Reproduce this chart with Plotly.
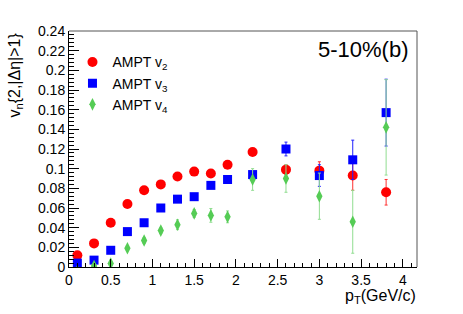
import plotly.graph_objects as go

pt = [0.1, 0.3, 0.5, 0.7, 0.9, 1.1, 1.3, 1.5, 1.7, 1.9, 2.2, 2.6, 3.0, 3.4, 3.8]
v2 = [0.012, 0.024, 0.045, 0.064, 0.078, 0.084, 0.092, 0.097, 0.095, 0.104, 0.117, 0.099, 0.098, 0.093, 0.076]
v2_err = [0.001, 0.001, 0.001, 0.001, 0.001, 0.001, 0.001, 0.002, 0.002, 0.002, 0.003, 0.005, 0.009, 0.015, 0.013]
v3 = [0.004, 0.007, 0.017, 0.036, 0.045, 0.060, 0.069, 0.0715, 0.083, 0.089, 0.094, 0.120, 0.093, 0.109, 0.157]
v3_err = [0.001, 0.001, 0.001, 0.001, 0.001, 0.001, 0.001, 0.002, 0.002, 0.002, 0.003, 0.007, 0.011, 0.020, 0.034]
v4 = [-0.004, 0.001, 0.0035, 0.019, 0.027, 0.037, 0.043, 0.0545, 0.0525, 0.051, 0.089, 0.090, 0.072, 0.046, 0.142]
v4_err = [0.002, 0.002, 0.002, 0.002, 0.003, 0.003, 0.005, 0.004, 0.007, 0.006, 0.011, 0.014, 0.0235, 0.032, 0.0485]

y_ticks = [0, 0.02, 0.04, 0.06, 0.08, 0.1, 0.12, 0.14, 0.16, 0.18, 0.2, 0.22, 0.24]
y_labels = ["0", "0.02", "0.04", "0.06", "0.08", "0.1", "0.12", "0.14", "0.16", "0.18", "0.2", "0.22", "0.24"]
x_ticks = [0, 0.5, 1, 1.5, 2, 2.5, 3, 3.5, 4]
x_labels = ["0", "0.5", "1", "1.5", "2", "2.5", "3", "3.5", "4"]

FONT = "Liberation Sans, Arial, Helvetica, sans-serif"

fig = go.Figure()
fig.add_trace(go.Scatter(
    x=pt, y=v2, mode="markers", name="AMPT v<sub>2</sub>",
    marker=dict(symbol="circle", size=10, color="#ff0000", line=dict(width=0)),
    error_y=dict(type="data", array=v2_err, color="#ff3030", thickness=1, width=1.5),
))
fig.add_trace(go.Scatter(
    x=pt, y=v3, mode="markers", name="AMPT v<sub>3</sub>",
    marker=dict(symbol="square", size=9, color="#0000ff", line=dict(width=0)),
    error_y=dict(type="data", array=v3_err, color="#2020ff", thickness=1, width=1.5),
))
fig.add_trace(go.Scatter(
    x=pt, y=v4, mode="markers", name="AMPT v<sub>4</sub>",
    marker=dict(symbol="diamond-tall", size=9, color="#55cc55", line=dict(width=0)),
    error_y=dict(type="data", array=v4_err, color="#90dd90", thickness=1, width=1.5),
))

fig.update_layout(
    width=463, height=314,
    margin=dict(l=69, r=46, t=31, b=47, autoexpand=False),
    paper_bgcolor="white", plot_bgcolor="white",
    font=dict(family=FONT, size=14, color="black"),
    showlegend=True,
    legend=dict(x=0.01, y=0.935, xanchor="left", yanchor="top",
                bgcolor="rgba(0,0,0,0)", font=dict(size=14), tracegroupgap=0,
                itemwidth=30),
    xaxis=dict(range=[0, 4.17], tickvals=x_ticks, ticktext=x_labels,
               ticks="inside", ticklen=8, tickwidth=1, tickcolor="black",
               showline=True, linecolor="black", linewidth=1,
               showgrid=False, zeroline=False, automargin=False,
               minor=dict(dtick=0.1, ticklen=4, tickcolor="black", ticks="inside", showgrid=False),
               tickfont=dict(size=14)),
    yaxis=dict(range=[0, 0.24], tickvals=y_ticks, ticktext=y_labels,
               ticks="inside", ticklen=10, tickwidth=1, tickcolor="black",
               showline=True, linecolor="black", linewidth=1,
               showgrid=False, zeroline=False, automargin=False,
               minor=dict(dtick=0.004, ticklen=5, tickcolor="black", ticks="inside", showgrid=False),
               tickfont=dict(size=14)),
    shapes=[
        dict(type="line", xref="paper", yref="paper", x0=0, x1=1, y0=1, y1=1,
             line=dict(color="#555555", width=1)),
        dict(type="line", xref="paper", yref="paper", x0=1, x1=1, y0=0, y1=1,
             line=dict(color="#555555", width=1)),
    ],
    annotations=[
        dict(text="v<sub>n</sub>{2,|Δη|>1}", xref="paper", yref="paper",
             x=-0.155, y=1.0, xanchor="center", yanchor="top", textangle=-90,
             showarrow=False, font=dict(size=16)),
        dict(text="p<sub>T</sub>(GeV/c)", xref="paper", yref="paper",
             x=1.0, y=-0.125, xanchor="right", yanchor="middle", borderpad=0,
             showarrow=False, font=dict(size=16)),
        dict(text="5-10%(b)", xref="paper", yref="paper",
             x=0.981, y=0.922, xanchor="right", yanchor="middle",
             showarrow=False, font=dict(size=22)),
    ],
)

fig.write_html("out.html", config={"displayModeBar": False},
               post_script="document.body.style.margin='0';document.body.style.overflow='hidden';")
